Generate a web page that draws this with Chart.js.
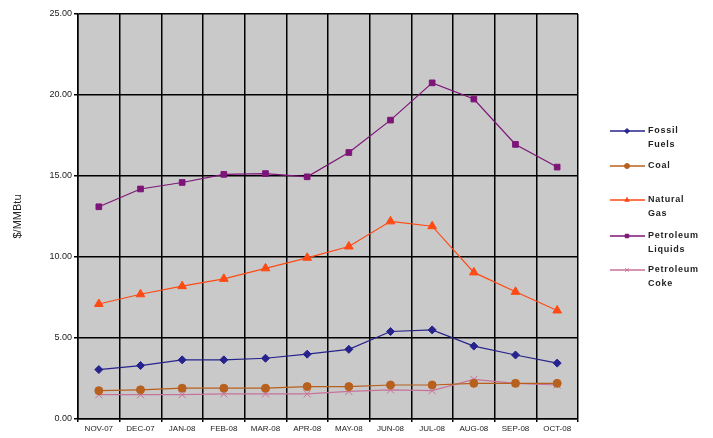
<!DOCTYPE html>
<html>
<head>
<meta charset="utf-8">
<script src="https://cdn.jsdelivr.net/npm/chart.js@4"></script>
<style>
  html, body { margin: 0; padding: 0; background: #fff; }
  #wrap { width: 713px; height: 438px; }
</style>
</head>
<body>
<div id="wrap"><canvas id="fuelChart" width="713" height="438"></canvas></div>
<script>
// months
const months = ['NOV-07', 'DEC-07', 'JAN-08', 'FEB-08', 'MAR-08', 'APR-08', 'MAY-08', 'JUN-08', 'JUL-08', 'AUG-08', 'SEP-08', 'OCT-08'];

// $/MMBtu values
const fossilFuels = [3.05, 3.3, 3.65, 3.65, 3.75, 4.0, 4.3, 5.4, 5.5, 4.5, 3.95, 3.45];
const coal = [1.75, 1.8, 1.9, 1.9, 1.9, 2.0, 2.0, 2.1, 2.1, 2.2, 2.2, 2.2];
const naturalGas = [7.1, 7.7, 8.2, 8.65, 9.3, 9.95, 10.65, 12.2, 11.9, 9.05, 7.85, 6.7];
const petroleumLiquids = [13.1, 14.2, 14.6, 15.1, 15.15, 14.95, 16.45, 18.45, 20.75, 19.75, 16.95, 15.55];
const petroleumCoke = [1.5, 1.5, 1.5, 1.55, 1.55, 1.55, 1.7, 1.8, 1.75, 2.45, 2.2, 2.1];

const yTicks = [0, 5, 10, 15, 20, 25];

// legend labels (2 lines each)
const legendLabels = [['Fossil', 'Fuels'], ['Coal'], ['Natural', 'Gas'], ['Petroleum', 'Liquids'], ['Petroleum', 'Coke']];

function series(label, data, color, style, radius) {
    return {
        label: label,
        data: data,
        borderColor: color,
        backgroundColor: color,
        borderWidth: 1.2,
        pointStyle: style,
        pointRadius: radius,
        pointBorderWidth: 1,
        tension: 0
    };
}

// グレーの背景
const plotBackground = {
    id: 'plotBackground',
    beforeDraw(chart) {
        const { ctx, chartArea } = chart;
        ctx.save();
        ctx.fillStyle = '#c9c9c9';
        ctx.fillRect(chartArea.left, chartArea.top, chartArea.width, chartArea.height);
        ctx.restore();
    }
};

// 右側の凡例（2行ラベル）
const sideLegend = {
    id: 'sideLegend',
    afterDraw(chart) {
        const ctx = chart.ctx;
        const rows = [131, 166, 200, 236, 270];
        ctx.save();
        chart.data.datasets.forEach((ds, i) => {
            const y = rows[i];
            ctx.strokeStyle = ds.borderColor;
            ctx.lineWidth = 1.5;
            ctx.beginPath();
            ctx.moveTo(610, y);
            ctx.lineTo(645, y);
            ctx.stroke();
            ctx.fillStyle = ds.borderColor;
            ctx.strokeStyle = ds.borderColor;
            ctx.lineWidth = 1;
            Chart.helpers.drawPoint(ctx, { pointStyle: ds.pointStyle, radius: 2.5, rotation: 0, borderWidth: 1 }, 627, y);
            ctx.fillStyle = '#222';
            ctx.font = 'bold 9px "Liberation Sans", Arial, sans-serif';
            ctx.textBaseline = 'middle';
            legendLabels[i].forEach((line, j) => {
                ctx.fillText(line.split('').join(String.fromCharCode(8202)), 648, y + j * 14);
            });
        });
        ctx.restore();
    }
};

const ctx = document.getElementById('fuelChart').getContext('2d');
new Chart(ctx, {
    type: 'line',
    data: {
        labels: months,
        datasets: [
            series('Fossil Fuels', fossilFuels, '#27238c', 'rectRot', 4),
            series('Coal', coal, '#b8601e', 'circle', 4),
            series('Natural Gas', naturalGas, '#ff4a14', 'triangle', 5),
            series('Petroleum Liquids', petroleumLiquids, '#7d1578', 'rect', 4),
            series('Petroleum Coke', petroleumCoke, '#c8729a', 'crossRot', 5)
        ]
    },
    options: {
        responsive: false,
        animation: false,
        layout: { padding: { top: 14, right: 135, left: 0, bottom: 0 } },
        plugins: {
            legend: { display: false },
            tooltip: { enabled: false }
        },
        scales: {
            x: {
                offset: true,
                grid: { offset: true, color: '#000', lineWidth: 1.5, drawTicks: true, tickLength: 3 },
                border: { color: '#000', width: 1.5 },
                ticks: {
                    color: '#222',
                    font: { size: 8, family: '"Liberation Sans", Arial, sans-serif' },
                    maxRotation: 0,
                    autoSkip: false,
                    padding: 2
                },
                afterFit(scale) { scale.height = 19; }
            },
            y: {
                min: 0,
                max: 25,
                afterBuildTicks(scale) { scale.ticks = yTicks.map(v => ({ value: v })); },
                grid: { color: '#000', lineWidth: 1.5, tickLength: 4 },
                border: { color: '#000', width: 1.5 },
                ticks: {
                    color: '#222',
                    font: { size: 9, family: '"Liberation Sans", Arial, sans-serif' },
                    padding: 2,
                    callback: v => v.toFixed(2)
                },
                title: {
                    display: true,
                    text: '$/MMBtu',
                    color: '#222',
                    font: { size: 11, family: '"Liberation Sans", Arial, sans-serif' },
                    padding: { top: 11, bottom: 4 }
                },
                afterFit(scale) { scale.width = 78; }
            }
        }
    },
    plugins: [plotBackground, sideLegend]
});
</script>
</body>
</html>
